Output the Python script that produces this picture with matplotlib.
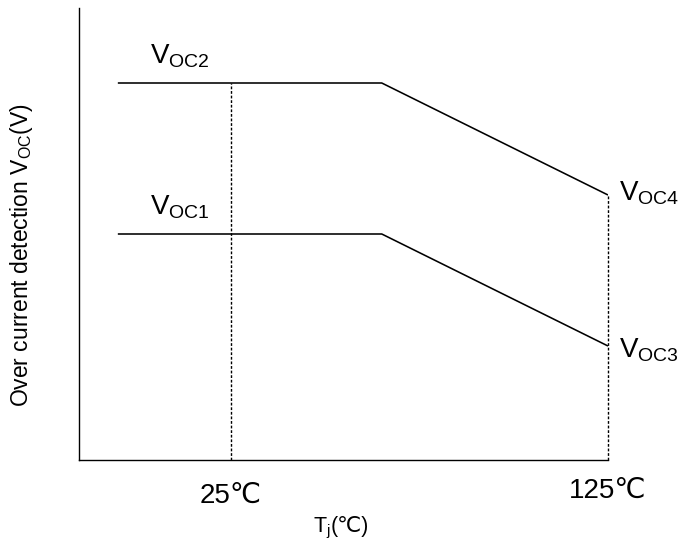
import matplotlib
matplotlib.use('Agg')
import matplotlib.pyplot as plt

# ==========================================
# DATOS (x = Tj en grados C, y = unidades arbitrarias)
# ==========================================
temp = [-5, 65, 125]
voc_alto = [37.7, 37.7, 26.5]   # VOC2 -> VOC4
voc_bajo = [22.6, 22.6, 11.4]   # VOC1 -> VOC3
temp_marcas = [25, 125]
marca_txt = ["25℃", "125℃"]

FUENTE = ['Liberation Sans', 'DejaVu Sans']
plt.rcParams['font.family'] = FUENTE
plt.rcParams['mathtext.fontset'] = 'custom'
plt.rcParams['mathtext.rm'] = 'Liberation Sans'
plt.rcParams['mathtext.it'] = 'Liberation Sans:italic'

fig = plt.figure(figsize=(6.84, 5.44), dpi=100)
ax = fig.add_axes([79 / 684, 84 / 544, 529 / 684, 452 / 544])
ax.set_xlim(-15.3, 125)
ax.set_ylim(0, 45.2)

ax.plot(temp, voc_alto, color='black', lw=1.15, solid_capstyle='butt')
ax.plot(temp, voc_bajo, color='black', lw=1.15, solid_capstyle='butt')

# lineas punteadas verticales
ax.vlines(temp_marcas[0], 0, voc_alto[0], colors='black', lw=1.0,
          linestyles=(0, (2, 1.3)), clip_on=False)
ax.vlines(temp_marcas[1], 0, voc_alto[-1], colors='black', lw=1.0,
          linestyles=(0, (2, 1.3)), clip_on=False)

for s in ['top', 'right']:
    ax.spines[s].set_visible(False)
for s in ['left', 'bottom']:
    ax.spines[s].set_linewidth(1.0)
ax.set_xticks([])
ax.set_yticks([])

# etiquetas de las curvas
ax.annotate(r'$\mathrm{V_{OC2}}$', (temp[0], voc_alto[0]), xytext=(23, 14),
            textcoords='offset points', fontsize=20, ha='left', va='baseline')
ax.annotate(r'$\mathrm{V_{OC1}}$', (temp[0], voc_bajo[0]), xytext=(23, 14),
            textcoords='offset points', fontsize=20, ha='left', va='baseline')
ax.annotate(r'$\mathrm{V_{OC4}}$', (temp[-1], voc_alto[-1]), xytext=(8, -4),
            textcoords='offset points', fontsize=20, ha='left', va='baseline',
            annotation_clip=False)
ax.annotate(r'$\mathrm{V_{OC3}}$', (temp[-1], voc_bajo[-1]), xytext=(8, -8),
            textcoords='offset points', fontsize=20, ha='left', va='baseline',
            annotation_clip=False)

ax.annotate(marca_txt[0], (temp_marcas[0], 0), xytext=(0, -26), textcoords='offset points',
            fontsize=20, ha='center', va='center', annotation_clip=False)
ax.annotate(marca_txt[1], (temp_marcas[1], 0), xytext=(0, -22), textcoords='offset points',
            fontsize=20, ha='center', va='center', annotation_clip=False)

# titulo eje x: Tj + (℃) en dos piezas (mathtext no tiene ℃)
fig.text(331 / 684, 1 - 532 / 544, r'$\mathrm{T_j}$', fontsize=15.5, ha='right', va='baseline')
fig.text(331 / 684, 1 - 532 / 544, '(℃)', fontsize=15.5, ha='left', va='baseline')
fig.text(22 / 684, 1 - 255 / 544, r'Over current detection $\mathrm{V_{OC}}$(V)', fontsize=16.5,
         rotation=90, ha='center', va='center')

plt.savefig('out.png', dpi=100)
plt.close()
